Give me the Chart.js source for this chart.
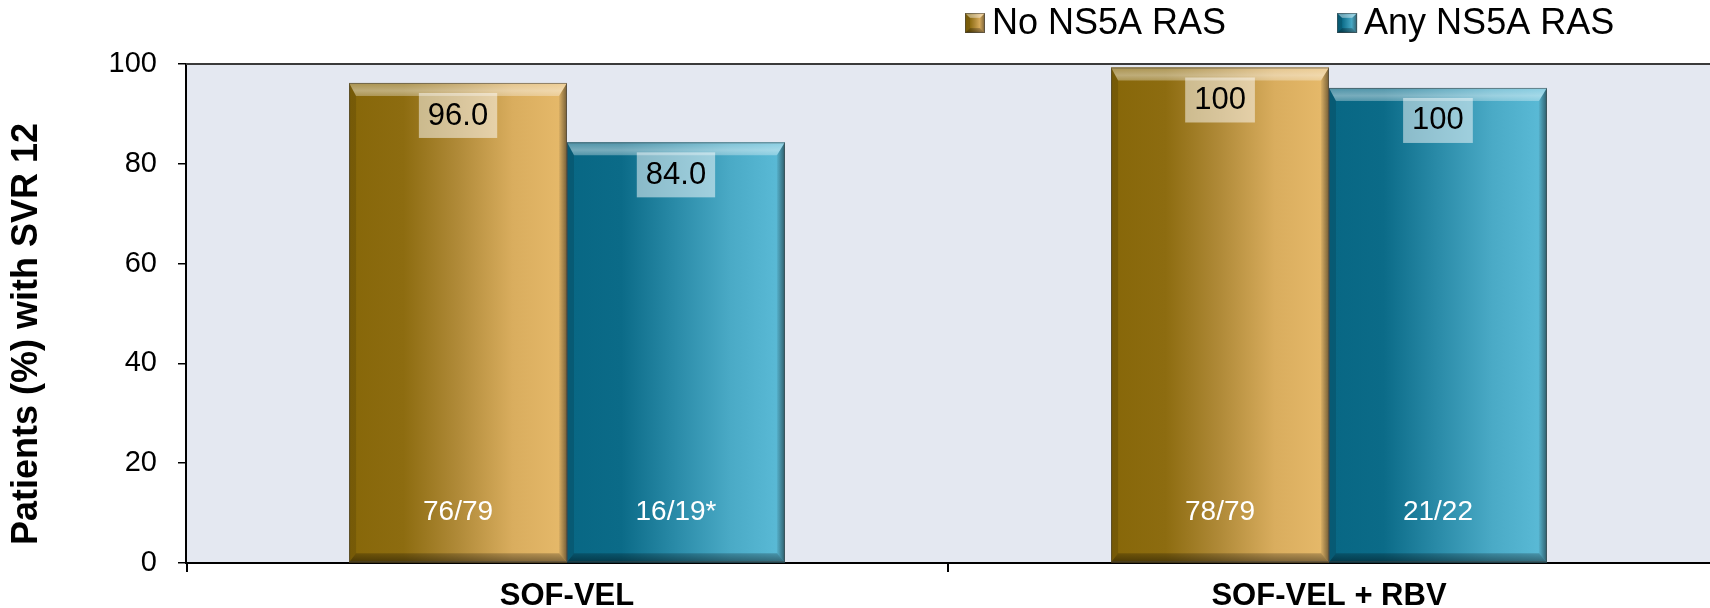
<!DOCTYPE html>
<html>
<head>
<meta charset="utf-8">
<script src="https://cdn.jsdelivr.net/npm/chart.js@4.4.1/dist/chart.umd.min.js"></script>
<style>
  html, body { margin: 0; padding: 0; background: #ffffff; overflow: hidden; }
  #wrap { width: 1710px; height: 608px; position: relative; }
</style>
</head>
<body>
<div id="wrap"><canvas id="svrChart"></canvas></div>
<script>
// Data
var categories = ['SOF-VEL', 'SOF-VEL + RBV'];
var seriesNames = ['No NS5A RAS', 'Any NS5A RAS'];
var noRasValues = [96.2, 99.3];
var anyRasValues = [84.3, 95.2];
var noRasLabels = ['96.0', '100'];
var anyRasLabels = ['84.0', '100'];
var noRasCounts = ['76/79', '78/79'];
var anyRasCounts = ['16/19*', '21/22'];
var yTicks = [0, 20, 40, 60, 80, 100];
var yTitle = 'Patients (%) with SVR 12';

var FONT = '"Liberation Sans", Arial, sans-serif';

var palettes = [
    { solid: '#b38d3a', stops: ['#876709', '#8d6c10', '#b08a38', '#d9ad5e', '#e7ba6b'] },
    { solid: '#2d8eaa', stops: ['#086784', '#0b6b88', '#2a8ba8', '#4aaac6', '#5cbcd8'] }
];

function poly(ctx, pts, fill) {
    ctx.beginPath();
    ctx.moveTo(pts[0][0], pts[0][1]);
    for (var i = 1; i < pts.length; i++) {
        ctx.lineTo(pts[i][0], pts[i][1]);
    }
    ctx.closePath();
    ctx.fillStyle = fill;
    ctx.fill();
}

// Beveled box with a horizontal gradient, like the original 3D bars
function drawBevel(ctx, x0, y0, x1, y1, b, pal) {
    var bt = b.t, bb = b.b, bl = b.l, br = b.r;
    var g = ctx.createLinearGradient(x0, 0, x1, 0);
    var n = pal.stops.length;
    pal.stops.forEach(function(c, i) { g.addColorStop(i / (n - 1), c); });
    ctx.fillStyle = g;
    ctx.fillRect(x0, y0, x1 - x0, y1 - y0);

    var ix0 = x0 + bl, ix1 = x1 - br, iy0 = y0 + bt, iy1 = y1 - bb;
    // top
    var gt = ctx.createLinearGradient(0, y0, 0, iy0);
    gt.addColorStop(0, 'rgba(255,255,255,0.28)');
    gt.addColorStop(0.6, 'rgba(255,255,255,0.45)');
    gt.addColorStop(1, 'rgba(255,255,255,0.3)');
    poly(ctx, [[x0, y0], [x1, y0], [ix1, iy0], [ix0, iy0]], gt);
    // left
    poly(ctx, [[x0, y0], [ix0, iy0], [ix0, iy1], [x0, y1]], 'rgba(0,0,0,0.12)');
    // right
    var gr = ctx.createLinearGradient(ix1, 0, x1, 0);
    gr.addColorStop(0, 'rgba(0,0,0,0.05)');
    gr.addColorStop(1, 'rgba(0,0,0,0.5)');
    poly(ctx, [[x1, y0], [x1, y1], [ix1, iy1], [ix1, iy0]], gr);
    // bottom
    var gb = ctx.createLinearGradient(0, iy1, 0, y1);
    gb.addColorStop(0, 'rgba(0,0,0,0.2)');
    gb.addColorStop(1, 'rgba(0,0,0,0.45)');
    poly(ctx, [[x0, y1], [x1, y1], [ix1, iy1], [ix0, iy1]], gb);

    ctx.strokeStyle = 'rgba(70,70,70,0.55)';
    ctx.lineWidth = 1;
    ctx.strokeRect(x0 + 0.5, y0 + 0.5, x1 - x0 - 1, y1 - y0 - 1);
}

var plotBackground = {
    id: 'plotBackground',
    beforeDraw: function(chart) {
        var a = chart.chartArea;
        var ctx = chart.ctx;
        ctx.save();
        ctx.fillStyle = '#e4e8f1';
        ctx.fillRect(a.left, a.top, a.right - a.left, a.bottom - a.top);
        ctx.restore();
    },
    afterDraw: function(chart) {
        var a = chart.chartArea;
        var ctx = chart.ctx;
        var xScale = chart.scales.x;
        ctx.save();
        ctx.strokeStyle = '#3a3a3a';
        ctx.lineWidth = 2;
        ctx.beginPath();
        ctx.moveTo(a.left, a.top);
        ctx.lineTo(a.right, a.top);
        ctx.stroke();

        // tick marks between categories (not at the right edge)
        ctx.strokeStyle = '#000';
        ctx.lineWidth = 2;
        ctx.beginPath();
        for (var i = 0; i < categories.length; i++) {
            var px = xScale.getPixelForValue(i) - (xScale.getPixelForValue(1) - xScale.getPixelForValue(0)) / 2;
            px = Math.max(px, a.left + 1);
            ctx.moveTo(px, a.bottom);
            ctx.lineTo(px, a.bottom + 9);
        }
        ctx.stroke();

        // y axis title
        ctx.translate(27, 334);
        ctx.rotate(-Math.PI / 2);
        ctx.fillStyle = '#000';
        ctx.font = 'bold 36px ' + FONT;
        ctx.textAlign = 'center';
        ctx.textBaseline = 'middle';
        ctx.fillText(yTitle, 0, 0);
        ctx.restore();

        // legend
        ctx.save();
        ctx.font = '36px ' + FONT;
        ctx.textBaseline = 'middle';
        ctx.textAlign = 'left';
        var lx = 965;
        seriesNames.forEach(function(name, i) {
            drawBevel(ctx, lx, 13, lx + 20, 33, { t: 5, b: 5, l: 5, r: 5 }, palettes[i]);
            ctx.fillStyle = '#000';
            ctx.fillText(name, lx + 27, 24);
            lx += 27 + ctx.measureText(name).width + 111;
        });
        ctx.restore();
    }
};

var barDecor = {
    id: 'barDecor',
    afterDatasetsDraw: function(chart) {
        var ctx = chart.ctx;
        var yScale = chart.scales.y;
        var valueLabels = [noRasLabels, anyRasLabels];
        var countLabels = [noRasCounts, anyRasCounts];
        ctx.save();
        chart.data.datasets.forEach(function(ds, di) {
            var meta = chart.getDatasetMeta(di);
            meta.data.forEach(function(bar, i) {
                var x0 = bar.x - bar.width / 2;
                var x1 = bar.x + bar.width / 2;
                var y0 = bar.y;
                var y1 = bar.base;
                drawBevel(ctx, x0, y0, x1, y1, { t: 13, b: 9, l: 7, r: 8 }, palettes[di]);

                // value in a pale box
                ctx.font = '31px ' + FONT;
                var txt = valueLabels[di][i];
                var w = ctx.measureText(txt).width + 18;
                ctx.fillStyle = 'rgba(255,255,255,0.5)';
                ctx.fillRect(bar.x - w / 2, y0 + 10, w, 45);
                ctx.fillStyle = '#000';
                ctx.textAlign = 'center';
                ctx.textBaseline = 'middle';
                ctx.fillText(txt, bar.x, y0 + 33);

                // patient counts near the base
                ctx.font = '28px ' + FONT;
                ctx.fillStyle = '#ffffff';
                ctx.fillText(countLabels[di][i], bar.x, yScale.getPixelForValue(0) - 51);
            });
        });
        ctx.restore();
    }
};

var ctx = document.getElementById('svrChart').getContext('2d');
new Chart(ctx, {
    type: 'bar',
    data: {
        labels: categories,
        datasets: [{
            label: seriesNames[0],
            data: noRasValues,
            backgroundColor: palettes[0].solid,
            borderWidth: 0
        }, {
            label: seriesNames[1],
            data: anyRasValues,
            backgroundColor: palettes[1].solid,
            borderWidth: 0
        }]
    },
    options: {
        responsive: true,
        maintainAspectRatio: false,
        animation: false,
        devicePixelRatio: 1,
        categoryPercentage: 0.572,
        barPercentage: 1.0,
        layout: { padding: { top: 64, left: 0, right: 0, bottom: 0 } },
        plugins: {
            legend: { display: false },
            tooltip: { enabled: false }
        },
        scales: {
            x: {
                grid: {
                    display: false,
                    offset: true,
                    drawTicks: true,
                    tickLength: 9
                },
                border: { display: true, color: '#000', width: 2 },
                ticks: {
                    color: '#000',
                    padding: 6,
                    font: { family: FONT, size: 31, weight: 'bold' }
                },
                afterFit: function(scale) { scale.height = 45; }
            },
            y: {
                min: 0,
                max: 100,
                afterBuildTicks: function(scale) {
                    scale.ticks = yTicks.map(function(v) { return { value: v }; });
                },
                grid: {
                    drawOnChartArea: false,
                    drawTicks: true,
                    tickLength: 8,
                    color: '#000',
                    lineWidth: 1.5
                },
                border: { display: true, color: '#000', width: 2 },
                ticks: {
                    color: '#000',
                    padding: 21,
                    font: { family: FONT, size: 29 }
                },
                afterFit: function(scale) { scale.width = 186; }
            }
        }
    },
    plugins: [plotBackground, barDecor]
});
</script>
</body>
</html>
